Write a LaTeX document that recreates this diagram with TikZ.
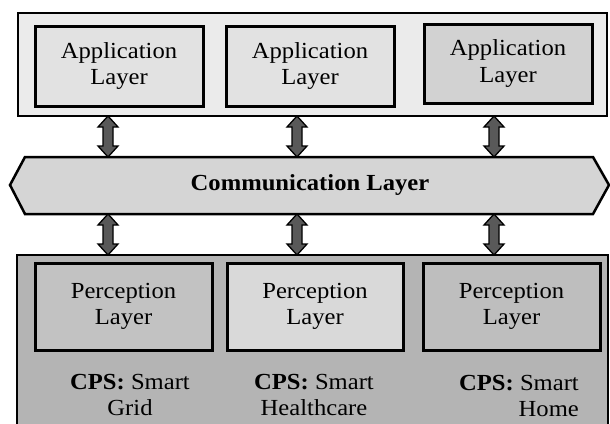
\documentclass[tikz,border=0pt]{standalone}
\usepackage{fontspec}
\setmainfont{Liberation Serif}[FakeStretch=1.07]
\usetikzlibrary{calc}

\definecolor{tiertop}{HTML}{EBEBEB}
\definecolor{tierbot}{HTML}{B4B4B4}
\definecolor{applight}{HTML}{E2E2E2}
\definecolor{appdark}{HTML}{D2D2D2}
\definecolor{commfill}{HTML}{D5D5D5}
\definecolor{percA}{HTML}{C2C2C2}
\definecolor{percB}{HTML}{D9D9D9}
\definecolor{percC}{HTML}{BEBEBE}
\definecolor{arrfill}{HTML}{595959}

% double block arrow from #1 (top) to #2 (bottom)
\newcommand{\bidir}[2]{%
  \filldraw[fill=arrfill, draw=black, line width=1.3pt, line join=miter]
    (#1) -- ++(-10,11) -- ++(5,0) -- ($(#2)+(-5,-11)$) -- ++(-5,0) -- (#2)
    -- ++(10,-11) -- ++(-5,0) -- ($(#1)+(5,11)$) -- ++(5,0) -- cycle;}

\begin{document}
\begin{tikzpicture}[x=1pt, y=-1pt, font=\fontsize{23}{26.5}\selectfont,
  tier/.style={draw=black, line width=2pt},
  layerbox/.style={draw=black, line width=3pt, align=center, inner sep=0pt},
  cpstext/.style={align=center, inner sep=0pt}]
\useasboundingbox (0,0) rectangle (610,423);
\clip (0,0) rectangle (610,423);

% application tier
\node[tier, fill=tiertop, minimum width=589pt, minimum height=103pt] (apptier) at (312.5,64.5) {};
\foreach \i/\x/\y/\h/\col in {1/119/66/80/applight, 2/310/66/80/applight, 3/508/63.5/79/appdark}
  \node[layerbox, fill=\col, minimum width=168pt, minimum height=\h pt] (app\i) at (\x,\y) {Application\\Layer};

% communication layer
\filldraw[fill=commfill, draw=black, line width=2.5pt]
  (10,185) -- (25,157) -- (593,157) -- (609,185) -- (593,214) -- (25,214) -- cycle;
\node[font=\fontsize{23}{26.5}\selectfont\bfseries] (comm) at (310,185) {Communication Layer};

% perception tier
\node[tier, fill=tierbot, minimum width=591pt, minimum height=180pt] (pertier) at (312.5,345) {};
\foreach \i/\x/\w/\col in {1/123.5/177/percA, 2/315/176/percB, 3/511.5/177/percC}
  \node[layerbox, fill=\col, minimum width=\w pt, minimum height=87pt] (per\i) at (\x,306.5) {Perception\\Layer};

\node[cpstext] (cps1) at (130,395) {\textbf{CPS:} Smart\\Grid};
\node[cpstext] (cps2) at (314,395) {\textbf{CPS:} Smart\\Healthcare};
\node[cpstext, align=right] (cps3) at (519,396) {\textbf{CPS:} Smart\\Home};

% arrows between the tiers
\foreach \i/\x in {1/108, 2/297, 3/494} {
  \coordinate (up\i) at (\x,116);
  \coordinate (cu\i) at (\x,157);
  \coordinate (cd\i) at (\x,214);
  \coordinate (dn\i) at (\x,255);
  \bidir{up\i}{cu\i}
  \bidir{cd\i}{dn\i}
}
\end{tikzpicture}
\end{document}
